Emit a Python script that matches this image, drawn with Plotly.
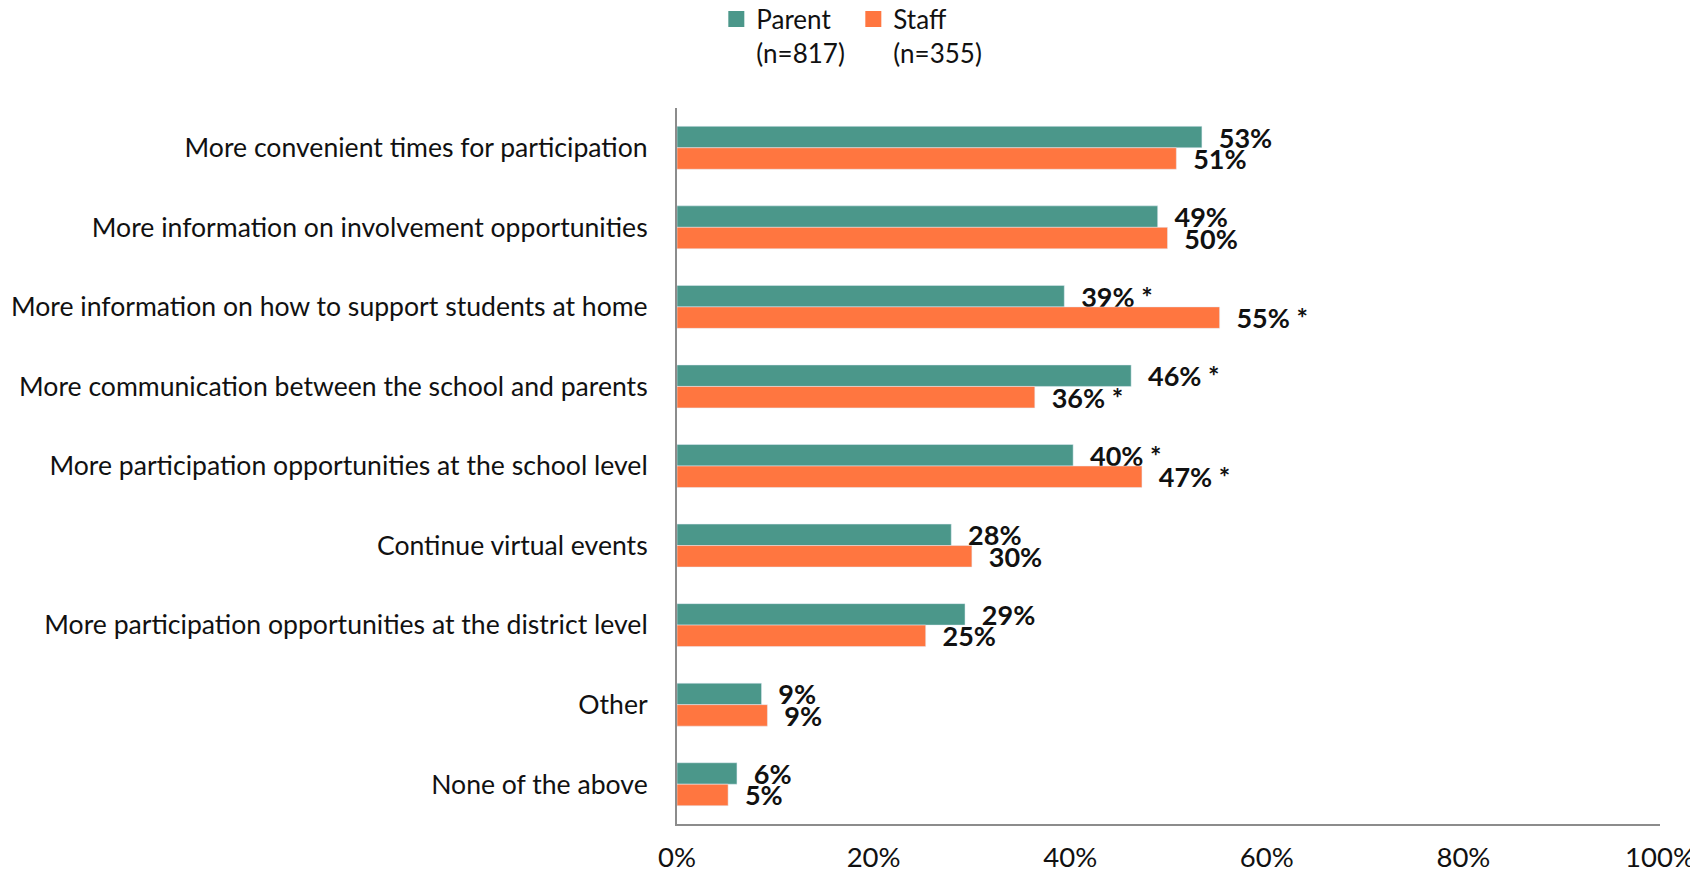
import plotly.graph_objects as go

# Data
categories = [
    "More convenient times for participation",
    "More information on involvement opportunities",
    "More information on how to support students at home",
    "More communication between the school and parents",
    "More participation opportunities at the school level",
    "Continue virtual events",
    "More participation opportunities at the district level",
    "Other",
    "None of the above",
]
parent = [53.4, 48.9, 39.4, 46.2, 40.3, 27.9, 29.3, 8.6, 6.1]
staff = [50.8, 49.9, 55.2, 36.4, 47.3, 30.0, 25.3, 9.2, 5.2]
significant = [False, False, True, True, True, False, False, False, False]
x_ticks = [0, 20, 40, 60, 80, 100]
series_names = ["Parent<br>(n=817)", "Staff<br>(n=355)"]

TEAL = "#4b978a"
ORANGE = "#ff7640"
AXIS = "#8c8c8c"
FONT = "Lato, sans-serif"


def labels(vals):
    return [f"&nbsp;&nbsp;<b>{v:.0f}%{' *' if s else ''}</b>"
            for v, s in zip(vals, significant)]


fig = go.Figure()
for vals, color in ((parent, TEAL), (staff, ORANGE)):
    fig.add_trace(go.Bar(
        y=categories, x=vals, orientation="h", showlegend=False,
        marker=dict(color=color), text=labels(vals), textposition="outside",
        constraintext="none", cliponaxis=False,
        textfont=dict(size=27, color="#111111", family=FONT)))

# legend entries with bigger square swatches
for name, color in zip(series_names, (TEAL, ORANGE)):
    fig.add_trace(go.Scatter(
        x=[None], y=[None], mode="markers", name=name,
        marker=dict(symbol="square", size=19, color=color)))

# page body adds an 8px margin, so the figure is sized to fit inside the window
fig.update_layout(
    width=1690, height=867,
    paper_bgcolor="white", plot_bgcolor="white",
    font=dict(family=FONT, size=26.6, color="#111111"),
    barmode="group", bargap=0.46, bargroupgap=0,
    margin=dict(l=669, r=38, t=100, b=51, autoexpand=False),
    legend=dict(orientation="h", x=0.04, xanchor="left", y=1.157, yanchor="top",
                font=dict(size=26), valign="top", itemwidth=30,
                entrywidth=92, entrywidthmode="pixels",
                bgcolor="rgba(0,0,0,0)"),
)
fig.update_xaxes(range=[0, 100], tickvals=x_ticks,
                 ticktext=[f"{t}%" for t in x_ticks],
                 showgrid=False, zeroline=False, showline=True,
                 linecolor=AXIS, linewidth=2, ticks="", ticklabelstandoff=8,
                 tickfont=dict(size=27.5))
fig.update_yaxes(autorange="reversed", showgrid=False, showline=True,
                 linecolor=AXIS, linewidth=2, ticks="", ticklabelstandoff=22,
                 tickfont=dict(size=26.6))

fig.write_html("out.html")
